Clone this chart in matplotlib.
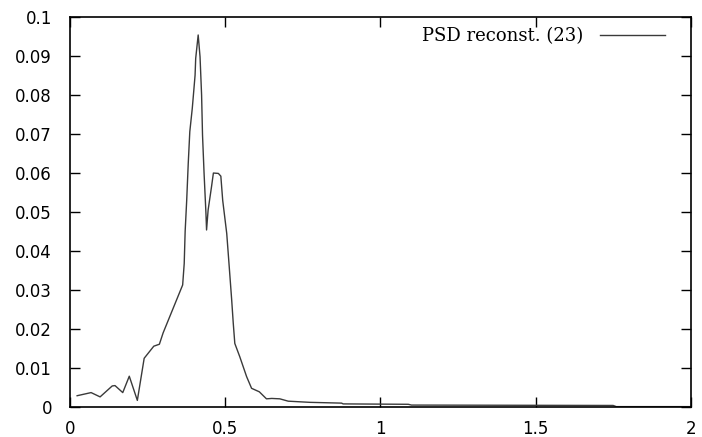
"""PSD reconstruction curve, gnuplot-like look."""

import matplotlib

matplotlib.use("Agg")
import matplotlib.pyplot as plt  # noqa: E402

_INK = "#000000"
_LINE = "#3a3a3a"

freq = [0.023, 0.068, 0.097, 0.136, 0.145, 0.170, 0.191, 0.217, 0.239, 0.270,
        0.288, 0.300, 0.363, 0.368, 0.371, 0.376, 0.381, 0.386, 0.394, 0.399,
        0.403, 0.405, 0.413, 0.419, 0.424, 0.427, 0.432, 0.438, 0.440, 0.445,
        0.456, 0.462, 0.478, 0.486, 0.492, 0.505, 0.513, 0.521, 0.526, 0.531,
        0.547, 0.569, 0.585, 0.610, 0.633, 0.650, 0.676, 0.703, 0.773, 0.875,
        0.880, 1.090, 1.100, 1.750, 1.760, 2.000]
psd = [0.0029, 0.0037, 0.0026, 0.0054, 0.0055, 0.0037, 0.0079, 0.0017, 0.0125, 0.0156,
       0.0161, 0.0190, 0.0313, 0.0368, 0.0450, 0.0530, 0.0625, 0.0706, 0.0766, 0.0813,
       0.0851, 0.0894, 0.0954, 0.0898, 0.0800, 0.0697, 0.0599, 0.0497, 0.0454, 0.0505,
       0.0565, 0.0600, 0.0599, 0.0592, 0.0530, 0.0445, 0.0360, 0.0274, 0.0215, 0.0163,
       0.0129, 0.0078, 0.0048, 0.0039, 0.0021, 0.0022, 0.0021, 0.0015, 0.0012, 0.0010,
       0.0008, 0.0007, 0.0005, 0.0004, 0.0001, 0.0001]

x_ticks = [0, 0.5, 1, 1.5, 2]
x_labels = ["0", "0.5", "1", "1.5", "2"]
y_ticks = [0, 0.01, 0.02, 0.03, 0.04, 0.05, 0.06, 0.07, 0.08, 0.09, 0.1]
y_labels = ["0", "0.01", "0.02", "0.03", "0.04", "0.05", "0.06", "0.07", "0.08", "0.09", "0.1"]
label = "PSD reconst. (23)"

fig = plt.figure(figsize=(7.02, 4.37), dpi=100)
ax = fig.add_axes([0.0997, 0.0686, 0.8843, 0.8924])

ax.plot(freq, psd, color=_LINE, lw=1.0, label=label)
ax.set_xlim(0, 2)
ax.set_ylim(0, 0.1)

ax.set_xticks(x_ticks)
ax.set_xticklabels(x_labels)
ax.set_yticks(y_ticks)
ax.set_yticklabels(y_labels)
ax.tick_params(direction="in", length=7, width=1, top=True, right=True,
               colors=_INK, labelsize=12)
ax.tick_params(axis="x", pad=9)
ax.tick_params(axis="y", pad=13)
for lab in ax.get_xticklabels() + ax.get_yticklabels():
    lab.set_family("DejaVu Sans")
for s in ax.spines.values():
    s.set_linewidth(1.2)
    s.set_color(_INK)

leg = ax.legend(loc="upper right", bbox_to_anchor=(0.984, 1.016), frameon=False,
                markerfirst=False, handlelength=3.55, handletextpad=0.94,
                prop={"family": "DejaVu Serif", "size": 13})

fig.savefig("out.png", dpi=100)
